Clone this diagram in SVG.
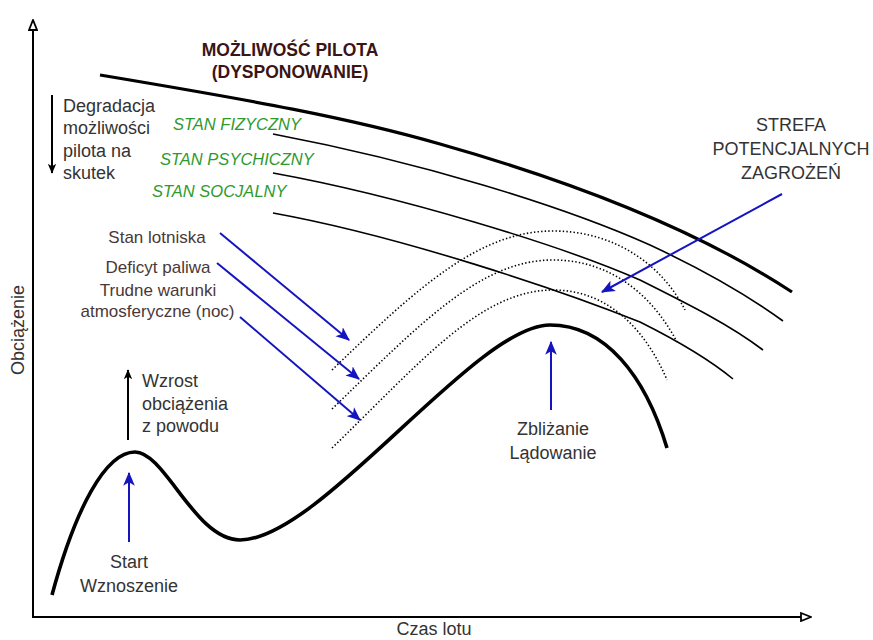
<svg xmlns="http://www.w3.org/2000/svg" width="873" height="640" viewBox="0 0 873 640">
  <style>
    text { font-family: "Liberation Sans", Arial, sans-serif; }
    .lbl { font-size: 18px; fill: #333333; }
    .cause { font-size: 17px; fill: #4a3838; text-anchor: middle; }
    .title { font-size: 17.5px; font-weight: bold; fill: #3b1414; text-anchor: middle; }
    .state { font-size: 16.5px; font-style: italic; fill: #2e9a2e; }
    .axis { fill: none; stroke: #000; stroke-width: 2; }
    .capab { fill: none; stroke: #000; stroke-width: 3.2; }
    .thin { fill: none; stroke: #000; stroke-width: 1.6; }
    .zone { fill: none; stroke: #000; stroke-width: 1.6; stroke-dasharray: 1.4 2.2; }
    .load { fill: none; stroke: #000; stroke-width: 3.6; }
    .blue { fill: none; stroke: #1515c0; stroke-width: 2; }
    .blk { fill: none; stroke: #000; stroke-width: 2; }
  </style>
  <defs>
    <marker id="open" viewBox="0 0 12 10" refX="11" refY="5" markerWidth="12" markerHeight="10" markerUnits="userSpaceOnUse" orient="auto">
      <path d="M1,1 L11,5 L1,9 Z" fill="#fff" stroke="#000" stroke-width="1.8"/>
    </marker>
    <marker id="bluehead" viewBox="0 0 12 10" refX="11" refY="5" markerWidth="14" markerHeight="12" markerUnits="userSpaceOnUse" orient="auto">
      <path d="M0,0 L12,5 L0,10 L3,5 Z" fill="#1515c0"/>
    </marker>
    <marker id="blackhead" viewBox="0 0 12 10" refX="11" refY="5" markerWidth="10" markerHeight="9" markerUnits="userSpaceOnUse" orient="auto">
      <path d="M0,0 L12,5 L0,10 L3,5 Z" fill="#000"/>
    </marker>
  </defs>
  <rect width="873" height="640" fill="#fff"/>

  <!-- axes -->
  <g id="axes">
    <path class="axis" d="M33,618 L33,20" marker-end="url(#open)"/>
    <path class="axis" d="M33,617 L811,617" marker-end="url(#open)"/>
    <text class="lbl" x="434" y="635" text-anchor="middle">Czas lotu</text>
    <text class="lbl" transform="translate(24,330) rotate(-90)" text-anchor="middle">Obciążenie</text>
  </g>

  <!-- pilot capability curves -->
  <g id="capability">
    <text class="title" x="290" y="56">MOŻLIWOŚĆ PILOTA</text>
    <text class="title" x="290" y="78">(DYSPONOWANIE)</text>
    <path class="capab" d="M100,75 C250,100 350,118 440,144 C560,178 690,225 792,292"/>
  </g>
  <g id="state-physical">
    <text class="state" x="173" y="130">STAN FIZYCZNY</text>
    <path class="thin" d="M273,134 C420,162 560,205 650,245 C710,273 750,297 783,321"/>
  </g>
  <g id="state-mental">
    <text class="state" x="160" y="165">STAN PSYCHICZNY</text>
    <path class="thin" d="M273,173 C400,196 560,245 640,280 C690,305 730,325 763,350"/>
  </g>
  <g id="state-social">
    <text class="state" x="152" y="197">STAN SOCJALNY</text>
    <path class="thin" d="M273,213 C400,236 560,290 640,322 C680,342 710,360 733,379"/>
  </g>
  <g id="degradation">
    <text class="lbl" x="63" y="111.5">Degradacja</text>
    <text class="lbl" x="63" y="134">możliwości</text>
    <text class="lbl" x="63" y="156.5">pilota na</text>
    <text class="lbl" x="63" y="179">skutek</text>
  </g>

  <!-- potential danger zone -->
  <g id="danger-zone">
    <path class="zone" d="M332,370 C420,285 480,231 553,231 C620,231 665,270 685,310"/>
    <path class="zone" d="M332,409 C420,324 480,260 553,260 C615,260 655,300 677,342"/>
    <path class="zone" d="M332,448 C420,363 480,290 553,290 C612,290 648,335 667,380"/>
    <text class="lbl" x="791" y="131" text-anchor="middle">STREFA</text>
    <text class="lbl" x="791" y="155" text-anchor="middle">POTENCJALNYCH</text>
    <text class="lbl" x="791" y="179" text-anchor="middle">ZAGROŻEŃ</text>
  </g>

  <!-- workload curve -->
  <g id="workload">
    <path class="load" d="M52,595 C75,510 105,452 135,452 C165,452 195,540 240,540 C320,540 475,325 550,325 C605,325 645,375 667,448"/>
  </g>
  <g id="causes">
    <text class="cause" x="157" y="243">Stan lotniska</text>
    <text class="cause" x="158" y="273">Deficyt paliwa</text>
    <text class="cause" x="158" y="296">Trudne warunki</text>
    <text class="cause" x="157.5" y="317">atmosferyczne (noc)</text>
  </g>
  <g id="increase">
    <text class="lbl" x="142" y="387">Wzrost</text>
    <text class="lbl" x="142" y="410">obciążenia</text>
    <text class="lbl" x="142" y="432">z powodu</text>
  </g>
  <g id="takeoff">
    <text class="lbl" x="129" y="568" text-anchor="middle">Start</text>
    <text class="lbl" x="129" y="592" text-anchor="middle">Wznoszenie</text>
  </g>
  <g id="landing">
    <text class="lbl" x="553" y="435" text-anchor="middle">Zbliżanie</text>
    <text class="lbl" x="553" y="459" text-anchor="middle">Lądowanie</text>
  </g>

  <!-- connectors -->
  <g id="connectors">
    <path class="blk" d="M52,95 L52,173" marker-end="url(#blackhead)"/>
    <path class="blk" d="M128,440 L128,370" marker-end="url(#blackhead)"/>
    <path class="blue" d="M220,233 L349,340" marker-end="url(#bluehead)"/>
    <path class="blue" d="M217,263 L359,379" marker-end="url(#bluehead)"/>
    <path class="blue" d="M240,317 L360,420" marker-end="url(#bluehead)"/>
    <path class="blue" d="M782,194 L602,292" marker-end="url(#bluehead)"/>
    <path class="blue" d="M129,542 L129,473" marker-end="url(#bluehead)"/>
    <path class="blue" d="M551,410 L551,342" marker-end="url(#bluehead)"/>
  </g>
</svg>
